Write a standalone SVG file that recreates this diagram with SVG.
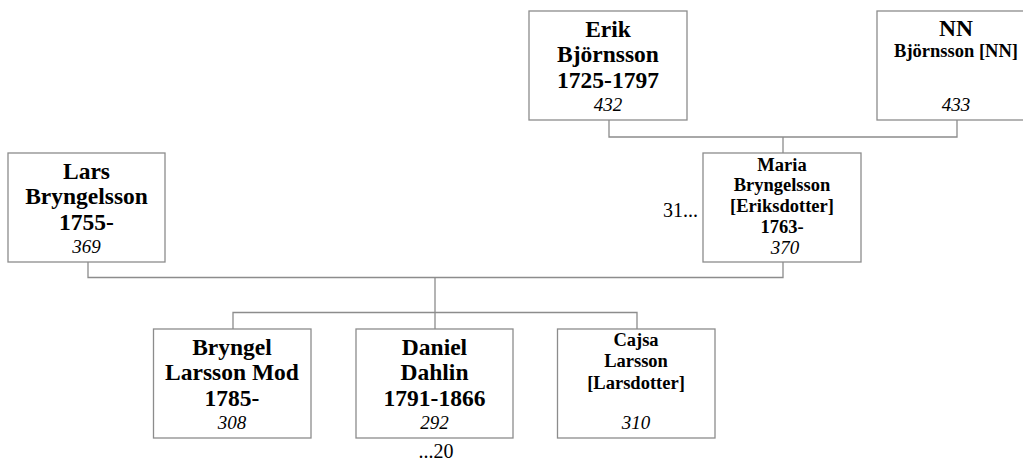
<svg xmlns="http://www.w3.org/2000/svg" width="1023" height="461" viewBox="0 0 1023 461">
<style>
.box{fill:#fff;stroke:#8c8c8c;stroke-width:1.3}
.ln{fill:none;stroke:#8c8c8c;stroke-width:1.3}
text{font-family:"Liberation Serif","Times New Roman",serif;fill:#000;text-anchor:middle}
.b{font-weight:bold;font-size:23.5px}
.s{font-weight:bold;font-size:18.5px}
.i{font-style:italic;font-size:19px}
.r{font-size:20px}
</style>
<rect width="1023" height="461" fill="#fff"/>
<g id="connectors">
<polyline class="ln" points="609,120 609,137 957,137 957,120"/>
<line class="ln" x1="783" y1="137" x2="783" y2="153"/>
<polyline class="ln" points="88,262 88,277.5 783,277.5 783,262"/>
<line class="ln" x1="435" y1="277.5" x2="435" y2="329"/>
<polyline class="ln" points="233,329 233,312.5 637,312.5 637,329"/>
</g>
<g id="n432">
<rect class="box" x="529" y="11" width="158" height="109"/>
<text class="b" x="608" y="37">Erik</text>
<text class="b" x="608" y="62">Björnsson</text>
<text class="b" x="608" y="88">1725-1797</text>
<text class="i" x="608" y="111">432</text>
</g>
<g id="n433">
<rect class="box" x="877" y="11" width="158" height="109"/>
<text class="b" x="956" y="36">NN</text>
<text class="s" x="956" y="57">Björnsson [NN]</text>
<text class="i" x="956" y="111">433</text>
</g>
<g id="n369">
<rect class="box" x="8" y="153" width="157" height="109"/>
<text class="b" x="86.5" y="179">Lars</text>
<text class="b" x="86.5" y="204">Bryngelsson</text>
<text class="b" x="86.5" y="230">1755-</text>
<text class="i" x="86.5" y="253">369</text>
</g>
<g id="n370">
<rect class="box" x="703" y="153" width="158" height="109"/>
<text class="s" x="782" y="170.5">Maria</text>
<text class="s" x="782" y="191">Bryngelsson</text>
<text class="s" x="782" y="212">[Eriksdotter]</text>
<text class="s" x="782" y="233">1763-</text>
<text class="i" x="785" y="254">370</text>
<text class="r" x="698" y="217" style="text-anchor:end">31...</text>
</g>
<g id="n308">
<rect class="box" x="153.5" y="329" width="157.5" height="109"/>
<text class="b" x="232" y="355">Bryngel</text>
<text class="b" x="232" y="380">Larsson Mod</text>
<text class="b" x="232" y="406">1785-</text>
<text class="i" x="232" y="429">308</text>
</g>
<g id="n292">
<rect class="box" x="356" y="329" width="157" height="109"/>
<text class="b" x="434.5" y="355">Daniel</text>
<text class="b" x="434.5" y="380">Dahlin</text>
<text class="b" x="434.5" y="406">1791-1866</text>
<text class="i" x="434.5" y="429">292</text>
<text class="r" x="436" y="458">...20</text>
</g>
<g id="n310">
<rect class="box" x="557.5" y="329" width="157.5" height="109"/>
<text class="s" x="636" y="346">Cajsa</text>
<text class="s" x="636" y="366.5">Larsson</text>
<text class="s" x="636" y="389">[Larsdotter]</text>
<text class="i" x="636" y="429">310</text>
</g>
</svg>
